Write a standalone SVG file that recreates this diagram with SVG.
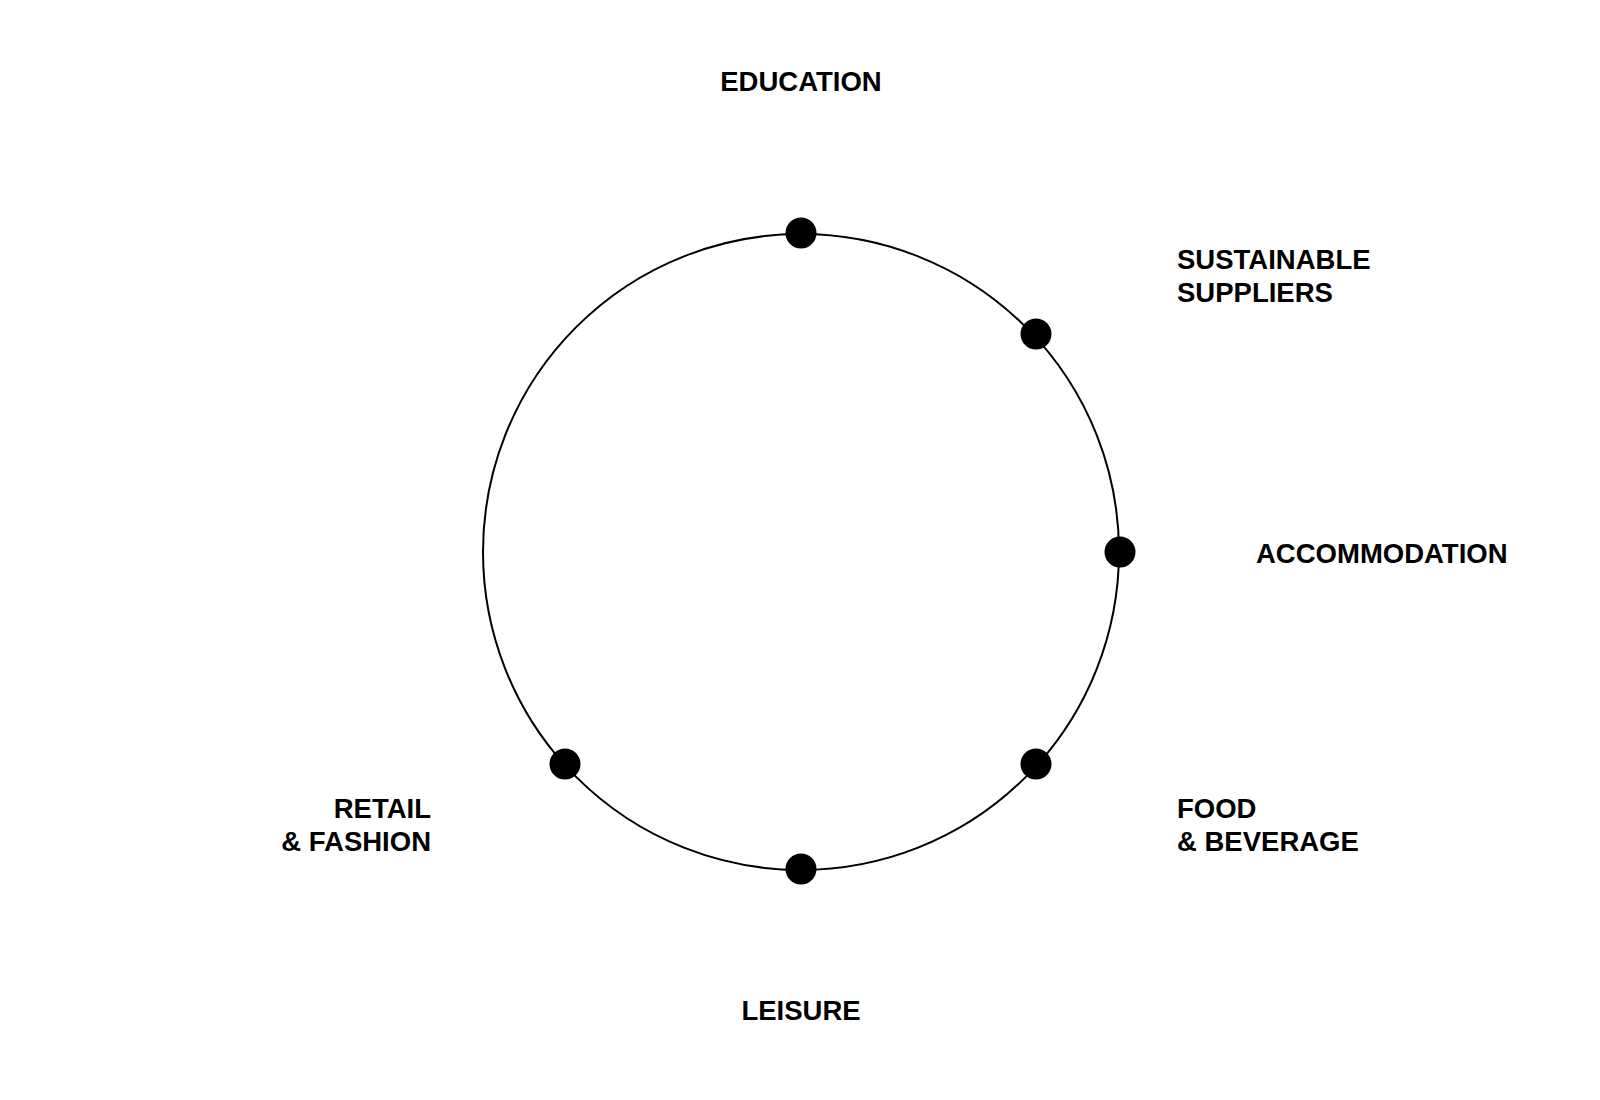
<svg xmlns="http://www.w3.org/2000/svg" width="1600" height="1100" viewBox="0 0 1600 1100">
<style>
text{font-family:"Liberation Sans",Arial,sans-serif;font-weight:bold;font-size:27.5px;fill:#000}
.dot{fill:#000}
</style>
<rect width="1600" height="1100" fill="#fff"/>
<g id="connectors">
<circle cx="801" cy="552" r="318" fill="none" stroke="#000" stroke-width="2"/>
</g>
<g id="education"><circle class="dot" cx="801" cy="233" r="15.5"/><text x="801" y="91" text-anchor="middle">EDUCATION</text></g>
<g id="suppliers"><circle class="dot" cx="1036" cy="334" r="15.5"/><text x="1177" y="269">SUSTAINABLE</text><text x="1177" y="302">SUPPLIERS</text></g>
<g id="accommodation"><circle class="dot" cx="1120" cy="552" r="15.5"/><text x="1256" y="563">ACCOMMODATION</text></g>
<g id="food"><circle class="dot" cx="1036" cy="764" r="15.5"/><text x="1177" y="818">FOOD</text><text x="1177" y="851">&amp; BEVERAGE</text></g>
<g id="leisure"><circle class="dot" cx="801" cy="869" r="15.5"/><text x="801" y="1020" text-anchor="middle">LEISURE</text></g>
<g id="retail"><circle class="dot" cx="565" cy="764" r="15.5"/><text x="431" y="818" text-anchor="end">RETAIL</text><text x="431" y="851" text-anchor="end">&amp; FASHION</text></g>
</svg>
